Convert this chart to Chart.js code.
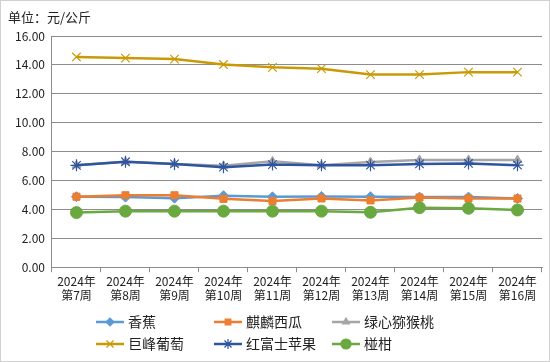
<!DOCTYPE html>
<html>
<head>
<meta charset="utf-8">
<script src="https://cdn.jsdelivr.net/npm/chart.js@4.4.1/dist/chart.umd.min.js"></script>
<style>
    html, body { margin: 0; padding: 0; background: #fff; }
    .wrap { width: 550px; height: 362px; position: relative; }
</style>
</head>
<body>
<div class="wrap"><canvas id="myChart" width="550" height="362"></canvas></div>
<script>
    // 数据
    const weeks = [
        ['2024年', '第7周'], ['2024年', '第8周'], ['2024年', '第9周'], ['2024年', '第10周'], ['2024年', '第11周'],
        ['2024年', '第12周'], ['2024年', '第13周'], ['2024年', '第14周'], ['2024年', '第15周'], ['2024年', '第16周']
    ];
    const seriesNames = ['香蕉', '麒麟西瓜', '绿心猕猴桃', '巨峰葡萄', '红富士苹果', '椪柑'];
    const banana     = [4.88, 4.85, 4.78, 4.95, 4.87, 4.90, 4.88, 4.85, 4.85, 4.76];
    const watermelon = [4.88, 4.98, 4.98, 4.73, 4.58, 4.76, 4.62, 4.82, 4.76, 4.75];
    const kiwi       = [7.05, 7.30, 7.15, 7.02, 7.33, 7.05, 7.28, 7.42, 7.42, 7.42];
    const grape      = [14.55, 14.47, 14.40, 14.03, 13.83, 13.74, 13.33, 13.33, 13.50, 13.50];
    const apple      = [7.05, 7.30, 7.15, 6.92, 7.10, 7.05, 7.06, 7.15, 7.18, 7.06];
    const mandarin   = [3.78, 3.88, 3.88, 3.88, 3.88, 3.88, 3.80, 4.12, 4.08, 3.96];
    const yTicks = [0, 2, 4, 6, 8, 10, 12, 14, 16];

    const FONT = "'Noto Sans CJK SC', 'DejaVu Sans', sans-serif";
    const colors = ['#5b9bd5', '#ed7d31', '#a5a5a5', '#c99a06', '#2f55a0', '#6aa840'];
    const styles = ['rectRot', 'rect', 'triangle', 'crossRot', 'star', 'circle'];
    const radii  = [5, 5, 5, 6, 6, 6];
    const values = [banana, watermelon, kiwi, grape, apple, mandarin];

    const datasets = seriesNames.map((name, i) => ({
        label: name,
        data: values[i],
        borderColor: colors[i],
        backgroundColor: colors[i],
        pointBackgroundColor: colors[i],
        pointBorderColor: colors[i],
        pointStyle: styles[i],
        pointRadius: radii[i],
        pointBorderWidth: (styles[i] === 'crossRot' || styles[i] === 'star') ? 1.2 : 1,
        borderWidth: 2.5,
        tension: 0,
        order: 6 - i
    }));

    // 边框、标题、图例
    const decor = {
        id: 'decor',
        afterDraw(chart) {
            const ctx = chart.ctx;
            ctx.save();
            ctx.strokeStyle = '#d0d0d0';
            ctx.lineWidth = 1;
            ctx.strokeRect(0.5, 0.5, chart.width - 1, chart.height - 1);

            ctx.fillStyle = '#222';
            ctx.font = '13px ' + FONT;
            ctx.textBaseline = 'middle';
            ctx.textAlign = 'left';
            ctx.fillText('单位：元/公斤', 8, 17);

            const cols = [96, 214, 332];
            const rows = [322, 344];
            chart.data.datasets.forEach((ds, i) => {
                const x = cols[i % 3], y = rows[Math.floor(i / 3)];
                ctx.strokeStyle = ds.borderColor;
                ctx.lineWidth = 2.5;
                ctx.beginPath();
                ctx.moveTo(x, y);
                ctx.lineTo(x + 28, y);
                ctx.stroke();
                ctx.fillStyle = ds.borderColor;
                ctx.strokeStyle = ds.borderColor;
                ctx.lineWidth = 1.2;
                Chart.helpers.drawPoint(ctx, {
                    pointStyle: ds.pointStyle, radius: ds.pointRadius - 1, rotation: 0, borderWidth: 1.2
                }, x + 14, y);
                ctx.fillStyle = '#222';
                ctx.font = '14px ' + FONT;
                ctx.fillText(ds.label, x + 32, y);
            });
            ctx.restore();
        }
    };

    const ctx = document.getElementById('myChart').getContext('2d');
    new Chart(ctx, {
        type: 'line',
        data: { labels: weeks, datasets: datasets },
        options: {
            responsive: false,
            animation: false,
            layout: { padding: { left: 8, right: 8, top: 36, bottom: 57 } },
            plugins: { legend: { display: false }, title: { display: false }, tooltip: { enabled: false } },
            scales: {
                x: {
                    offset: true,
                    grid: { offset: true, drawOnChartArea: false, drawTicks: true, tickLength: 5, color: '#8c8c8c' },
                    border: { color: '#8c8c8c' },
                    ticks: { color: '#222', font: { family: FONT, size: 12 }, maxRotation: 0, autoSkip: false, padding: 2 }
                },
                y: {
                    min: 0, max: 16,
                    afterBuildTicks(scale) { scale.ticks = yTicks.map(v => ({ value: v })); },
                    grid: { color: '#8c8c8c', drawTicks: false },
                    border: { color: '#8c8c8c' },
                    ticks: {
                        color: '#222', font: { family: FONT, size: 12 }, padding: 7,
                        callback: v => Number(v).toFixed(2)
                    }
                }
            }
        },
        plugins: [decor]
    });
</script>
</body>
</html>
